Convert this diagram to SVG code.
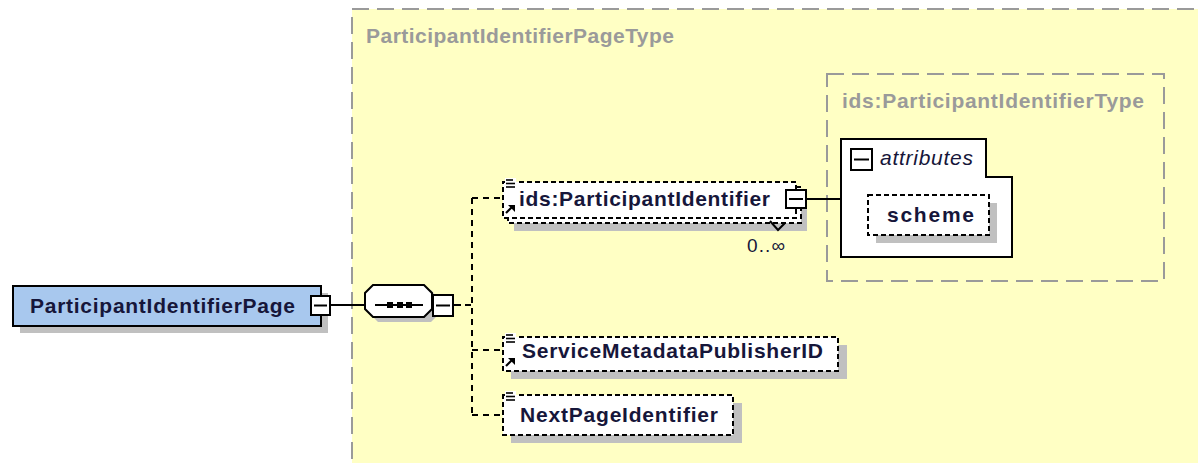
<svg xmlns="http://www.w3.org/2000/svg" width="1198" height="463" viewBox="0 0 1198 463">
<style>
.t{font-family:"Liberation Sans",Arial,sans-serif;font-size:21px;font-weight:bold;fill:#16163a}
.g{font-family:"Liberation Sans",Arial,sans-serif;font-size:21px;font-weight:bold;fill:#9a9a9a}
.it{font-family:"Liberation Sans",Arial,sans-serif;font-size:21px;font-style:italic;fill:#16163a}
.n{font-family:"Liberation Sans",Arial,sans-serif;font-size:19px;fill:#16163a}
.typebox{fill:#ffffc4;stroke:#9a9a9a;stroke-width:2;stroke-dasharray:17,8}
.typebox2{fill:none;stroke:#9a9a9a;stroke-width:2;stroke-dasharray:17,8}
.sh{fill:#c0c0c0}
.el{fill:#ffffff;stroke:#000;stroke-width:2;stroke-dasharray:5,3}
.solid{fill:#ffffff;stroke:#000;stroke-width:2}
.mb{fill:#ffffff;stroke:#000;stroke-width:2}
.ln{stroke:#000;stroke-width:2;fill:none}
.dl{stroke:#000;stroke-width:2;fill:none;stroke-dasharray:6,5}
.ic{stroke:#000;stroke-width:1.6}
</style>

<g id="ParticipantIdentifierPageType">
<rect class="typebox" x="352" y="9" width="870" height="480"/>
<text class="g" x="366" y="43" textLength="308">ParticipantIdentifierPageType</text>
</g>

<g id="ParticipantIdentifierType">
<rect class="typebox2" x="827" y="74" width="337" height="207"/>
<text class="g" x="842" y="108" textLength="302">ids:ParticipantIdentifierType</text>
</g>

<g id="connectors">
<line class="ln" x1="330" y1="305" x2="365" y2="305"/>
<line class="ln" x1="453" y1="305" x2="461" y2="305"/>
<line class="dl" x1="465" y1="305" x2="472" y2="305"/>
<line class="dl" x1="472" y1="198" x2="472" y2="415"/>
<line class="dl" x1="472" y1="198" x2="503" y2="198"/>
<line class="dl" x1="472" y1="350" x2="503" y2="350"/>
<line class="dl" x1="472" y1="415" x2="503" y2="415"/>
<line class="ln" x1="806" y1="199" x2="841" y2="199"/>
</g>

<g id="ParticipantIdentifierPage">
<rect class="sh" x="20" y="293" width="308" height="40"/>
<rect x="13" y="286" width="308" height="40" fill="#a8c8ee" stroke="#000" stroke-width="2"/>
<text class="t" x="30" y="313" textLength="265">ParticipantIdentifierPage</text>
<rect class="mb" x="311" y="296" width="19" height="19"/>
<line class="ln" x1="314" y1="305.5" x2="327" y2="305.5"/>
</g>

<g id="sequence">
<polygon class="sh" points="378,290 431,290 438,298 438,315 431,322 378,322 371,315 371,298"/>
<polygon class="solid" points="373,285 424,285 432,293 432,309 424,317 373,317 365,309 365,293"/>
<line class="ln" x1="375" y1="305" x2="423" y2="305"/>
<rect x="387" y="302" width="6" height="6" fill="#000"/>
<rect x="397" y="302" width="6" height="6" fill="#000"/>
<rect x="406" y="302" width="6" height="6" fill="#000"/>
<rect class="mb" x="433" y="295" width="20" height="21"/>
<line class="ln" x1="436" y1="305.5" x2="450" y2="305.5"/>
</g>

<g id="ParticipantIdentifier">
<rect class="sh" x="514" y="194" width="293" height="37"/>
<rect class="el" x="508" y="187" width="293" height="36"/>
<rect class="el" x="503" y="182" width="293" height="36"/>
<path d="M770,221 L778,230 L785,223" class="ln" stroke-width="1.5" stroke="#444"/>
<rect x="505" y="178" width="11" height="10" fill="#fff"/>
<line class="ic" x1="506" y1="180" x2="513" y2="180"/>
<line class="ic" x1="506" y1="183.5" x2="515" y2="183.5"/>
<line class="ic" x1="506" y1="187" x2="515" y2="187"/>
<line x1="506" y1="213" x2="512" y2="207" stroke="#000" stroke-width="2.2"/>
<polygon points="508,205 515,205 515,212" fill="#000"/>
<text class="t" x="519" y="206" textLength="251">ids:ParticipantIdentifier</text>
<line class="ln" x1="796" y1="185" x2="796" y2="190"/>
<line class="ln" x1="796" y1="208" x2="796" y2="213"/>
<rect class="mb" x="786" y="190" width="20" height="18"/>
<line class="ln" x1="789" y1="199" x2="803" y2="199"/>
<text class="n" x="747" y="252" textLength="38">0..∞</text>
</g>

<g id="attributes">
<path class="solid" d="M841,139 H986 V177 H1012 V257 H841 Z"/>
<rect class="mb" x="851" y="149" width="21" height="21"/>
<line class="ln" x1="854" y1="159.5" x2="869" y2="159.5"/>
<text class="it" x="880" y="165" textLength="93">attributes</text>
</g>

<g id="scheme">
<rect class="sh" x="876" y="203" width="121" height="40"/>
<rect class="el" x="868" y="195" width="121" height="40"/>
<text class="t" x="887" y="222" textLength="87">scheme</text>
</g>

<g id="ServiceMetadataPublisherID">
<rect class="sh" x="511" y="345" width="336" height="34"/>
<rect class="el" x="503" y="337" width="335" height="34"/>
<rect x="505" y="333" width="11" height="10" fill="#fff"/>
<line class="ic" x1="506" y1="335" x2="513" y2="335"/>
<line class="ic" x1="506" y1="338.5" x2="515" y2="338.5"/>
<line class="ic" x1="506" y1="342" x2="515" y2="342"/>
<line x1="506" y1="366" x2="512" y2="360" stroke="#000" stroke-width="2.2"/>
<polygon points="508,358 515,358 515,365" fill="#000"/>
<text class="t" x="522" y="358" textLength="301">ServiceMetadataPublisherID</text>
</g>

<g id="NextPageIdentifier">
<rect class="sh" x="511" y="403" width="231" height="40"/>
<rect class="el" x="503" y="395" width="230" height="40"/>
<rect x="505" y="391" width="11" height="10" fill="#fff"/>
<line class="ic" x1="506" y1="393" x2="513" y2="393"/>
<line class="ic" x1="506" y1="396.5" x2="515" y2="396.5"/>
<line class="ic" x1="506" y1="400" x2="515" y2="400"/>
<text class="t" x="520" y="422" textLength="198">NextPageIdentifier</text>
</g>
</svg>
